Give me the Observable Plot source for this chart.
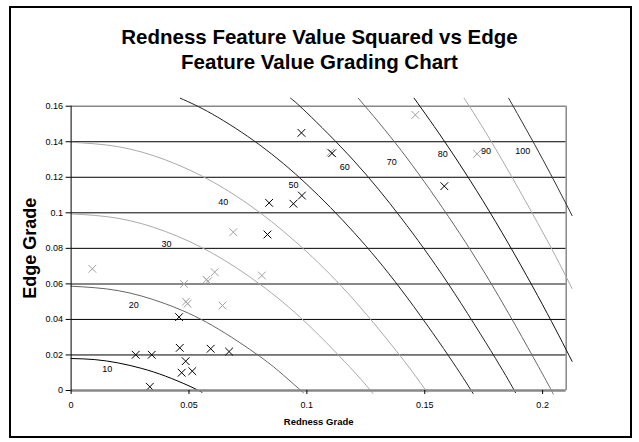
<!DOCTYPE html>
<html><head><meta charset="utf-8">
<script src="https://cdn.jsdelivr.net/npm/d3@7"></script>
<script src="https://cdn.jsdelivr.net/npm/@observablehq/plot@0.6"></script>
<style>
body{margin:0;background:#fff;}
#wrap{position:relative;width:639px;height:442px;background:#fff;font-family:"Liberation Sans",Arial,sans-serif;overflow:hidden;}
#frame{position:absolute;left:9px;top:6px;width:619px;height:428px;border:2px solid #000;}
#title{position:absolute;left:0;width:639px;top:24px;text-align:center;font-weight:bold;font-size:20.5px;line-height:25px;color:#000;}
#chart{position:absolute;left:0;top:90px;}
</style></head>
<body><div id="wrap"><div id="frame"></div><div id="title"></div><div id="chart"></div></div>
<script>
// ---- data ----
const titleLines = ["Redness Feature Value Squared vs Edge", "Feature Value Grading Chart"];
const xLabel = ["Redness Grade"];
const yLabel = ["Edge Grade"];
const xTicks = [0, 0.05, 0.1, 0.15, 0.2];
const yTicks = [0, 0.02, 0.04, 0.06, 0.08, 0.1, 0.12, 0.14, 0.16];
const gridLines = [0.02, 0.04, 0.08, 0.1, 0.12, 0.14];

// grade contour curves [redness, edge]
const curve10 = [[0,0.018],[0.01,0.0174],[0.02,0.0155],[0.03,0.0124],[0.04,0.0081],[0.05,0.0026],[0.0555,-0.001]];
const curve20 = [[0,0.0587],[0.02,0.0562],[0.04,0.0488],[0.06,0.0365],[0.08,0.0192],[0.09,0.0087],[0.0985,-0.0012]];
const curve30 = [[0,0.0994],[0.02,0.0969],[0.04,0.0895],[0.06,0.0772],[0.08,0.0599],[0.1,0.0377],[0.12,0.0106],[0.128,-0.0017]];
const curve40 = [[0,0.1397],[0.02,0.1372],[0.04,0.1298],[0.06,0.1175],[0.08,0.1002],[0.1,0.078],[0.12,0.0509],[0.14,0.0188],[0.151,-0.001]];
const curve50 = [[0.0463,0.1645],[0.06,0.1555],[0.08,0.1382],[0.1,0.116],[0.12,0.0889],[0.14,0.0568],[0.16,0.0197],[0.1705,-0.0017]];
const curve60 = [[0.0931,0.1645],[0.1,0.1563],[0.12,0.1292],[0.14,0.0971],[0.16,0.06],[0.18,0.0181],[0.1885,-0.0012]];
const curve70 = [[0.1218,0.1645],[0.14,0.1351],[0.16,0.098],[0.18,0.0561],[0.2,0.0092],[0.2045,-0.002]];
const curve80 = [[0.1455,0.1645],[0.16,0.137],[0.18,0.0951],[0.2,0.0482],[0.2125,0.0164]];
const curve90 = [[0.1667,0.1645],[0.18,0.1361],[0.2,0.0892],[0.2125,0.0574]];
const curve100 = [[0.1856,0.1645],[0.2,0.1302],[0.2125,0.0984]];

// curve grade labels
const gradeLabels = ["10","20","30","40","50","60","70","80","90","100"];
const labelX = [0.0153, 0.0266, 0.0405, 0.0645, 0.0943, 0.1161, 0.136, 0.1576, 0.176, 0.1916];
const labelY = [0.0118, 0.0478, 0.0825, 0.106, 0.1154, 0.1257, 0.1285, 0.1328, 0.135, 0.135];

// sample points (black markers)
const blackX = [0.0274, 0.0342, 0.0461, 0.0592, 0.067, 0.0486, 0.0469, 0.0514, 0.0334, 0.0458, 0.0977, 0.1107, 0.0979, 0.0943, 0.084, 0.0833, 0.1583];
const blackY = [0.0201, 0.0201, 0.024, 0.0235, 0.0219, 0.0165, 0.01, 0.0109, 0.0021, 0.0413, 0.145, 0.1335, 0.1097, 0.1051, 0.1056, 0.0878, 0.115];
// sample points (gray markers)
const grayX = [0.009, 0.0479, 0.0574, 0.0581, 0.0609, 0.0487, 0.0494, 0.0642, 0.0809, 0.0688, 0.11, 0.146, 0.1722];
const grayY = [0.0685, 0.06, 0.0623, 0.0615, 0.0666, 0.05, 0.0488, 0.0478, 0.0647, 0.0891, 0.134, 0.1551, 0.1332];

// ---- build ----
document.getElementById("title").innerHTML = titleLines.join("<br>");

const curves = [curve10, curve20, curve30, curve40, curve50, curve60, curve70, curve80, curve90, curve100];
const curveStroke = ["#000", "#666", "#aaa", "#aaa", "#222", "#222", "#666", "#111", "#aaa", "#333"];
const labels = gradeLabels.map((t, i) => ({t, x: labelX[i], y: labelY[i]}));
const blacks = blackX.map((x, i) => ({x, y: blackY[i]}));
const grays = grayX.map((x, i) => ({x, y: grayY[i]}));

const font = '"Liberation Sans", Arial, sans-serif';
const chart = Plot.plot({
  width: 639, height: 352,
  marginLeft: 70.6, marginRight: 73.3, marginTop: 15.7, marginBottom: 52,
  x: {domain: [0, 0.21]},
  y: {domain: [0, 0.16]},
  style: {fontFamily: font, fontSize: "9px", color: "#000", background: "transparent", overflow: "visible"},
  marks: [
    Plot.ruleY(gridLines, {stroke: "#000", strokeWidth: 1}),
    Plot.ruleY([0.06], {stroke: "#888", strokeWidth: 2}),
    Plot.ruleY([0.16], {stroke: "#888", strokeWidth: 1.5}),
    Plot.ruleX([0.21], {stroke: "#888", strokeWidth: 1.5}),
    ...curves.map((c, i) => Plot.line(c, {x: d => d[0], y: d => d[1], stroke: curveStroke[i], strokeWidth: 1, curve: "natural"})),
    Plot.dot(grays, {x: "x", y: "y", symbol: "times", r: 3.6, stroke: "#a0a0a0", strokeWidth: 1}),
    Plot.dot(blacks, {x: "x", y: "y", symbol: "times", r: 3.6, stroke: "#000", strokeWidth: 1}),
    Plot.text(labels, {x: "x", y: "y", text: "t", fontSize: 9, fill: "#000"}),
    Plot.ruleY([0], {stroke: "#888", strokeWidth: 2.5}),
    Plot.ruleX([0], {stroke: "#000", strokeWidth: 1}),
    Plot.axisX({ticks: xTicks, tickFormat: d => String(d), tickSize: 4, tickPadding: 7, label: null, stroke: "#000", fontSize: 9}),
    Plot.axisY({ticks: yTicks, tickFormat: d => String(d), tickSize: 5, tickPadding: 3, label: null, stroke: "#000", fontSize: 9}),
    Plot.text(yLabel, {text: d => d, frameAnchor: "left", dx: -41, rotate: -90, textAnchor: "middle", lineAnchor: "middle", fontSize: 18, fontWeight: "bold"}),
    Plot.text(xLabel, {text: d => d, frameAnchor: "bottom", dy: 31, textAnchor: "middle", lineAnchor: "middle", fontSize: 9.5, fontWeight: "bold"})
  ]
});
document.getElementById("chart").appendChild(chart);
</script>
</body></html>
